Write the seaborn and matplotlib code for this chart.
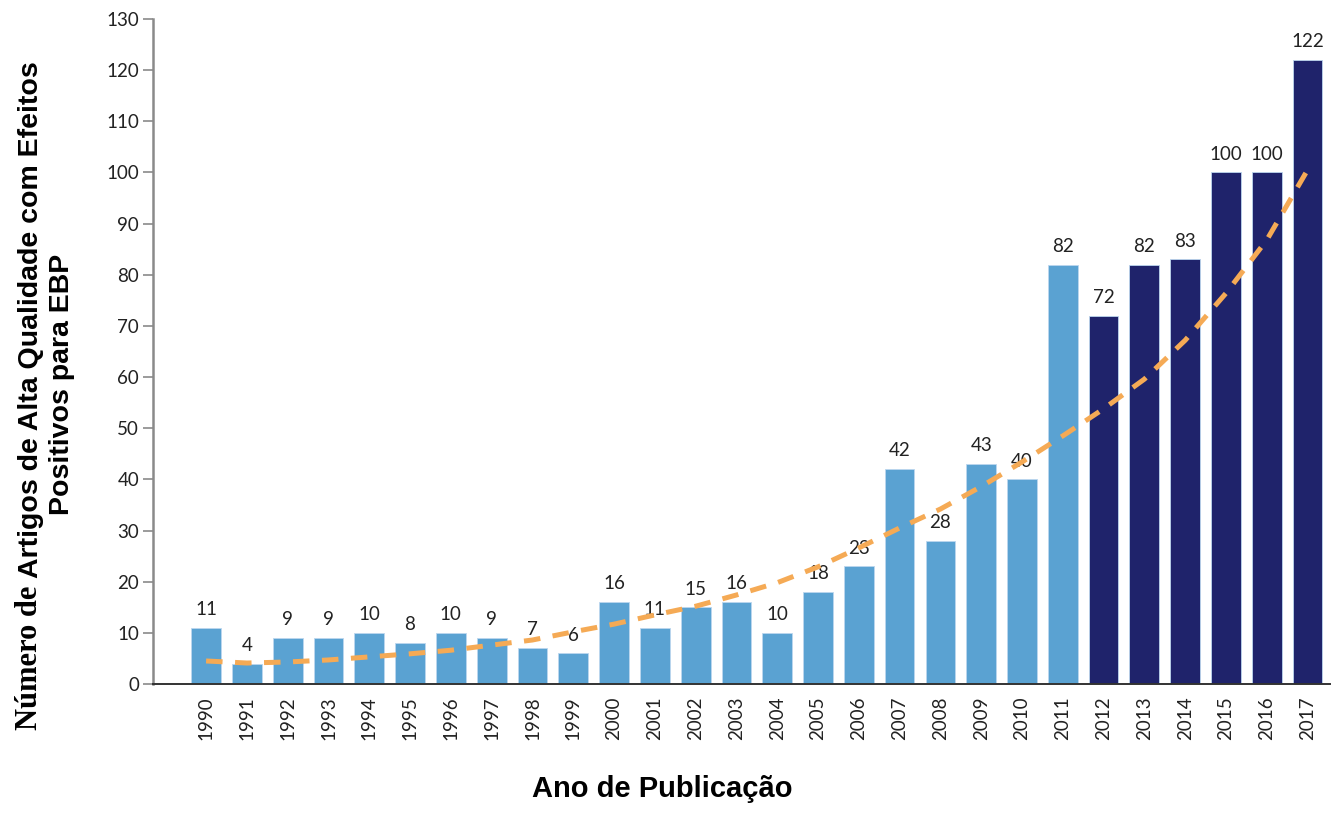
"""
Articles per publication year with an exponential-looking trend line
"""

import numpy as np
import pandas as pd
import matplotlib
matplotlib.use("Agg")
import matplotlib.pyplot as plt
import seaborn as sns

# === Data ===
YEARS = [str(y) for y in range(1990, 2018)]
COUNTS = [11, 4, 9, 9, 10, 8, 10, 9, 7, 6, 16, 11, 15, 16, 10, 18, 23, 42, 28, 43,
          40, 82, 72, 82, 83, 100, 100, 122]
PERIOD = ["antes"] * 22 + ["depois"] * 6
# trend values
TREND = [4.5, 4.1, 4.3, 4.7, 5.3, 5.9, 6.6, 7.6, 8.6, 10.2, 11.7, 13.5, 15.2, 17.4,
         19.8, 22.9, 26.6, 30.5, 34.2, 38.6, 43.4, 48.5, 53.8, 59.6, 67.2, 76.4,
         86.8, 100.5]

LIGHT = "#5aa2d2"
DARK = "#1f236b"
ORANGE = "#f5aa55"
TXT = "#222222"


def main():
    sns.set_style("white")
    plt.rcParams["font.family"] = ["Lato", "DejaVu Sans"]

    df = pd.DataFrame({"ano": YEARS, "n": COUNTS, "periodo": PERIOD})

    fig = plt.figure(figsize=(13.32, 8.17), dpi=100)
    ax = fig.add_axes([0.1149, 0.1628, 0.8836, 0.8139])

    sns.barplot(data=df, x="ano", y="n", hue="periodo",
                palette={"antes": LIGHT, "depois": DARK}, saturation=1,
                dodge=False, width=0.73, legend=False, ax=ax,
                edgecolor="#bcd6ee", linewidth=0.6)

    for cont in ax.containers:
        ax.bar_label(cont, fmt="%d", padding=7, fontsize=13.5, color=TXT)

    ax.plot(np.arange(len(YEARS)), TREND, color=ORANGE, lw=3.6,
            dashes=(3.3, 2.5), zorder=4)

    ax.set_xlim(-1.3, len(YEARS) - 0.45)
    ax.set_ylim(0, 130)
    ax.set_yticks(range(0, 131, 10))

    for s in ["top", "right"]:
        ax.spines[s].set_visible(False)
    ax.spines["left"].set_color("#8a8a8a")
    ax.spines["left"].set_linewidth(1.8)
    ax.spines["bottom"].set_color("#333333")
    ax.spines["bottom"].set_linewidth(1.4)

    ax.tick_params(axis="y", length=7, width=1.2, color="#8a8a8a",
                   labelsize=13.5, labelcolor=TXT, pad=3, left=True)
    ax.tick_params(axis="x", length=0, labelsize=13.5, labelcolor=TXT,
                   pad=9, labelrotation=90)

    ax.set_xlabel("")
    ax.set_ylabel("")

    fig.text(0.497, 0.017, "Ano de Publicação", ha="center", va="bottom",
             fontsize=21, fontweight="bold", family=["Liberation Sans"],
             color="black")

    # y label: first line mixes a serif and a sans part
    p1 = fig.text(0.022, 87 / 817, "Número de ", rotation=90, ha="center",
                  va="bottom", fontsize=22, fontweight="bold",
                  family=["Liberation Serif"], color="black")
    fig.canvas.draw()
    bb = p1.get_window_extent().transformed(fig.transFigure.inverted())
    fig.text(0.023, bb.y1, "Artigos de Alta Qualidade com Efeitos",
             rotation=90, ha="center", va="bottom", fontsize=20.5,
             fontweight="bold", family=["Liberation Sans"], color="black")
    fig.text(0.0465, 1 - 384 / 817, "Positivos para EBP", rotation=90,
             ha="center", va="center", fontsize=20.5, fontweight="bold",
             family=["Liberation Sans"], color="black")

    fig.savefig("out.png", dpi=100)
    plt.close(fig)


if __name__ == "__main__":
    main()
